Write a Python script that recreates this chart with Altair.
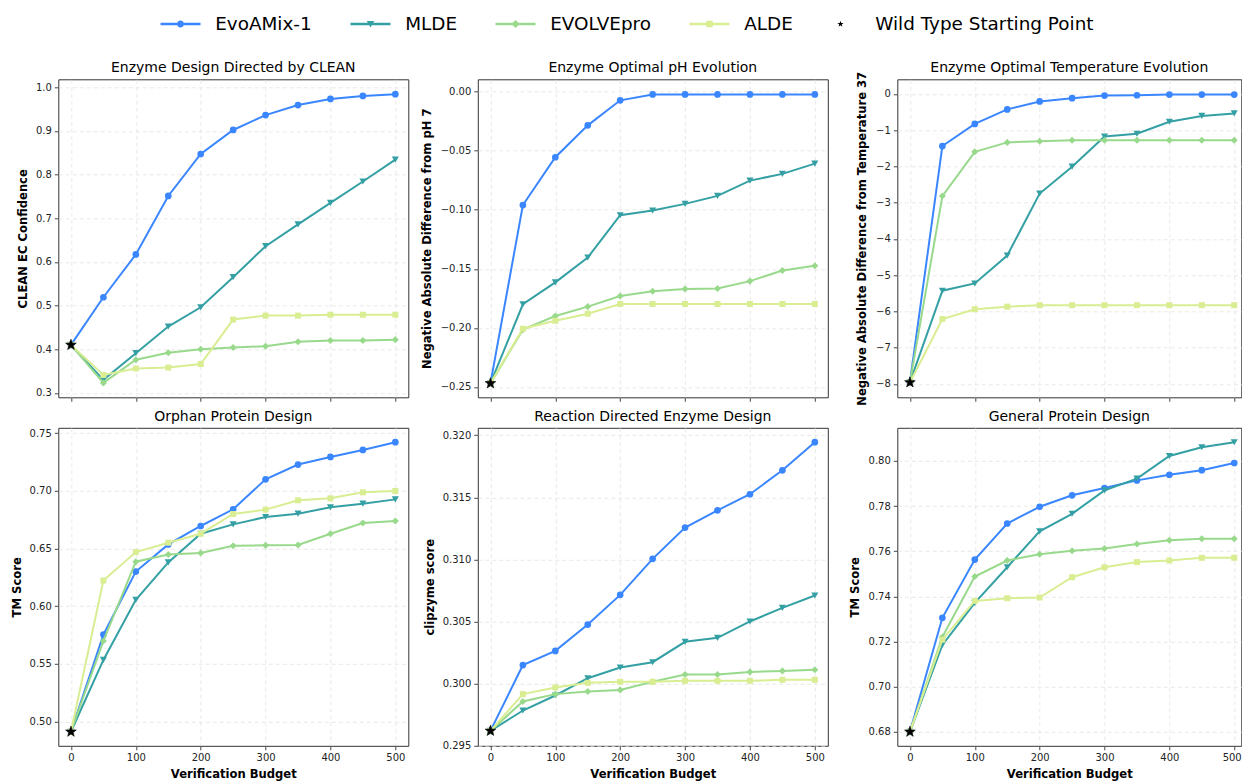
import altair as alt
import pandas as pd

# ---------------- data ----------------
BUDGET = [0, 50, 100, 150, 200, 250, 300, 350, 400, 450, 500]
X_TICKS = [0, 100, 200, 300, 400, 500]
METHODS = ["EvoAMix-1", "MLDE", "EVOLVEpro", "ALDE"]
LEGEND_LABELS = METHODS + ["Wild Type Starting Point"]

# Enzyme Design Directed by CLEAN
clean_evo = [0.41, 0.519, 0.617, 0.751, 0.847, 0.902, 0.936, 0.959, 0.973, 0.980, 0.984]
clean_mlde = [0.41, 0.330, 0.391, 0.452, 0.496, 0.565, 0.636, 0.686, 0.735, 0.784, 0.834]
clean_evolve = [0.41, 0.323, 0.376, 0.392, 0.400, 0.404, 0.407, 0.417, 0.420, 0.420, 0.422]
clean_alde = [0.41, 0.341, 0.356, 0.358, 0.366, 0.468, 0.477, 0.477, 0.479, 0.479, 0.479]

# Enzyme Optimal pH Evolution
ph_evo = [-0.247, -0.096, -0.0555, -0.0285, -0.0073, -0.0023, -0.0023, -0.0023, -0.0023, -0.0023, -0.0023]
ph_mlde = [-0.247, -0.180, -0.1615, -0.1404, -0.1046, -0.1006, -0.095, -0.0882, -0.0753, -0.0696, -0.0609]
ph_evolve = [-0.247, -0.2015, -0.190, -0.182, -0.173, -0.169, -0.167, -0.1666, -0.1604, -0.1514, -0.1474]
ph_alde = [-0.247, -0.2007, -0.194, -0.188, -0.1798, -0.1798, -0.1798, -0.1798, -0.1798, -0.1798, -0.1798]

# Enzyme Optimal Temperature Evolution
temp_evo = [-7.96, -1.44, -0.83, -0.43, -0.21, -0.12, -0.05, -0.04, -0.02, -0.02, -0.02]
temp_mlde = [-7.96, -5.43, -5.23, -4.46, -2.75, -2.01, -1.18, -1.10, -0.77, -0.61, -0.54]
temp_evolve = [-7.96, -2.82, -1.60, -1.34, -1.31, -1.28, -1.28, -1.28, -1.28, -1.28, -1.28]
temp_alde = [-7.96, -6.21, -5.94, -5.87, -5.83, -5.83, -5.83, -5.83, -5.83, -5.83, -5.83]

# Orphan Protein Design
orphan_evo = [0.491, 0.5753, 0.630, 0.6535, 0.6695, 0.684, 0.710, 0.7228, 0.7294, 0.7355, 0.7422]
orphan_mlde = [0.491, 0.5533, 0.6054, 0.6379, 0.6628, 0.6709, 0.6773, 0.6802, 0.6857, 0.6889, 0.6926]
orphan_evolve = [0.491, 0.5698, 0.6385, 0.6448, 0.6460, 0.6524, 0.6527, 0.6530, 0.6628, 0.6721, 0.6738]
orphan_alde = [0.491, 0.6222, 0.6469, 0.6550, 0.6628, 0.6799, 0.6837, 0.6918, 0.6935, 0.6987, 0.6999]

# Reaction Directed Enzyme Design
react_evo = [0.2962, 0.3015, 0.30264, 0.30476, 0.30715, 0.31005, 0.31257, 0.31396, 0.31525, 0.31718, 0.31944]
react_mlde = [0.2962, 0.29784, 0.29905, 0.30044, 0.3013, 0.30173, 0.30337, 0.30369, 0.30501, 0.3061, 0.3071]
react_evolve = [0.2962, 0.29857, 0.29916, 0.29937, 0.2995, 0.30015, 0.30074, 0.30074, 0.30095, 0.30103, 0.30112]
react_alde = [0.2962, 0.29916, 0.2997, 0.30007, 0.30015, 0.30015, 0.30023, 0.30023, 0.30023, 0.30031, 0.30031]

# General Protein Design
general_evo = [0.680, 0.7305, 0.7563, 0.7723, 0.7797, 0.7848, 0.7880, 0.7914, 0.7939, 0.7959, 0.7991]
general_mlde = [0.680, 0.7185, 0.7371, 0.7529, 0.7688, 0.7766, 0.7870, 0.7922, 0.8022, 0.8061, 0.8083]
general_evolve = [0.680, 0.7220, 0.7488, 0.7559, 0.7587, 0.7602, 0.7612, 0.7632, 0.7649, 0.7655, 0.7655]
general_alde = [0.680, 0.7208, 0.7380, 0.7392, 0.7395, 0.7485, 0.7529, 0.7552, 0.7559, 0.7571, 0.7571]

PANEL_TITLES = ["Enzyme Design Directed by CLEAN", "Enzyme Optimal pH Evolution",
                "Enzyme Optimal Temperature Evolution", "Orphan Protein Design",
                "Reaction Directed Enzyme Design", "General Protein Design"]
Y_TITLES = ["CLEAN EC Confidence", "Negative Absolute Difference from pH 7",
            "Negative Absolute Difference from Temperature 37", "TM Score",
            "clipzyme score", "TM Score"]
SERIES = [
    [clean_evo, clean_mlde, clean_evolve, clean_alde],
    [ph_evo, ph_mlde, ph_evolve, ph_alde],
    [temp_evo, temp_mlde, temp_evolve, temp_alde],
    [orphan_evo, orphan_mlde, orphan_evolve, orphan_alde],
    [react_evo, react_mlde, react_evolve, react_alde],
    [general_evo, general_mlde, general_evolve, general_alde],
]
Y_TICKS = [
    [0.3, 0.4, 0.5, 0.6, 0.7, 0.8, 0.9, 1.0],
    [-0.25, -0.20, -0.15, -0.10, -0.05, 0.00],
    [-8, -7, -6, -5, -4, -3, -2, -1, 0],
    [0.50, 0.55, 0.60, 0.65, 0.70, 0.75],
    [0.295, 0.300, 0.305, 0.310, 0.315, 0.320],
    [0.68, 0.70, 0.72, 0.74, 0.76, 0.78, 0.80],
]

# ---------------- style ----------------
COLORS = ["#3A86FF", "#34A0A4", "#99D98C", "#D9ED92"]
SHAPES = ["circle", "triangle-down", "diamond", "square"]
SIZES = [45, 50, 50, 36]
Y_DOMAINS = [[0.290, 1.018], [-0.2588, 0.0105], [-8.37, 0.40],
             [0.4788, 0.7547], [0.2950, 0.3206], [0.6738, 0.8147]]
Y_FORMATS = [".1f", ".2f", "d", ".2f", ".3f", ".2f"]
Y_TITLE_PAD = [30, 45.5, 29.5, 36, 42.5, 36.5]
TITLE_DY = [0, 0, 8, 0, 0, 0]
WIDTHS = [350, 350, 344]
X_DOMAINS = [[-19.5, 520], [-19.5, 520], [-19.5, 510.9]]
HEIGHT = 318
FONT = "DejaVu Sans"

LINE = "M-4,-0.27H4V0.27H-4Z"
STAR = ("M0,-0.65L0.153,-0.21L0.618,-0.201L0.247,0.08L0.382,0.526L0,0.26"
        "L-0.382,0.526L-0.247,0.08L-0.618,-0.201L-0.153,-0.21Z")
LEGEND_PATHS = [
    LINE + "M0.7,0A0.7,0.7,0,1,1,-0.7,0A0.7,0.7,0,1,1,0.7,0Z",
    LINE + "M-0.75,-0.6L0.75,-0.6L0,0.7Z",
    LINE + "M0,-0.8L0.8,0L0,0.8L-0.8,0Z",
    LINE + "M-0.65,-0.65H0.65V0.65H-0.65Z",
    STAR,
]


def make_panel(i):
    row, col = divmod(i, 3)
    xaxis_kw = dict(values=X_TICKS, labels=(row == 1),
                    title=("Verification Budget" if row == 1 else None),
                    titlePadding=5.5, format="d")
    if col == 2:
        xaxis_kw.update(labelFlush=9, labelFlushOffset=7)
    x = alt.X("x:Q", scale=alt.Scale(domain=X_DOMAINS[col], nice=False, zero=False),
              axis=alt.Axis(**xaxis_kw))
    y = alt.Y("y:Q", scale=alt.Scale(domain=Y_DOMAINS[i], nice=False, zero=False),
              axis=alt.Axis(values=Y_TICKS[i], format=Y_FORMATS[i], title=Y_TITLES[i],
                            titlePadding=Y_TITLE_PAD[i], minExtent=0, maxExtent=0))
    layers = []
    for vals, color, shape, size in zip(SERIES[i], COLORS, SHAPES, SIZES):
        df = pd.DataFrame({"x": BUDGET, "y": vals})
        base = alt.Chart(df)
        layers.append(base.mark_line(color=color, strokeWidth=2).encode(x=x, y=y))
        layers.append(base.mark_point(shape=shape, filled=True, color=color, size=size,
                                      opacity=1).encode(x=x, y=y))
    wt = pd.DataFrame({"x": [BUDGET[0]], "y": [SERIES[i][0][0]]})
    layers.append(alt.Chart(wt).mark_point(shape=STAR, filled=True, color="black", size=300,
                                           opacity=1, stroke="black", strokeWidth=0.6)
                  .encode(x=x, y=y))
    if i == 0:
        leg = alt.Legend(orient="none", legendX=113, legendY=-64.7, direction="horizontal",
                         columns=5, title=None, labelFont=FONT, labelFontSize=18.4,
                         labelColor="black", labelOffset=25.5, columnPadding=38,
                         symbolSize=100, symbolStrokeWidth=0, symbolOpacity=1,
                         labelLimit=400, padding=0)
        ldf = pd.DataFrame({"label": LEGEND_LABELS})
        layers.append(alt.Chart(ldf).mark_point(filled=True, opacity=0, size=0).encode(
            color=alt.Color("label:N", sort=LEGEND_LABELS,
                            scale=alt.Scale(domain=LEGEND_LABELS, range=COLORS + ["#000000"]),
                            legend=leg),
            shape=alt.Shape("label:N", sort=LEGEND_LABELS,
                            scale=alt.Scale(domain=LEGEND_LABELS, range=LEGEND_PATHS),
                            legend=leg)))
    title_kw = dict(frame="group", anchor="middle")
    if TITLE_DY[i]:
        title_kw["dy"] = TITLE_DY[i]
    return alt.layer(*layers).properties(
        width=WIDTHS[col], height=HEIGHT,
        title=alt.TitleParams(PANEL_TITLES[i], **title_kw))


chart = alt.concat(*[make_panel(i) for i in range(6)], columns=3,
                   spacing={"row": 30.5, "column": 69.5}, bounds="flush").properties(
    padding={"left": 10.3, "top": 14.3, "right": 0, "bottom": 0},
    autosize=alt.AutoSizeParams(type="pad"),
).configure(font=FONT).configure_view(
    stroke="#333333", strokeWidth=1
).configure_axis(
    grid=True, gridColor="#e3e3e3", gridDash=[4, 3], gridWidth=0.8,
    domain=False, tickColor="#333333", tickSize=4, tickWidth=0.9,
    labelFont=FONT, labelFontSize=10, labelColor="#222222", labelPadding=3,
    titleFont=FONT, titleFontSize=11.6, titleFontWeight="bold", titleColor="black",
).configure_title(
    font=FONT, fontSize=14, fontWeight="normal", color="black", offset=4, anchor="middle"
)

chart.save("out.html", embed_options={"renderer": "svg", "actions": False})
